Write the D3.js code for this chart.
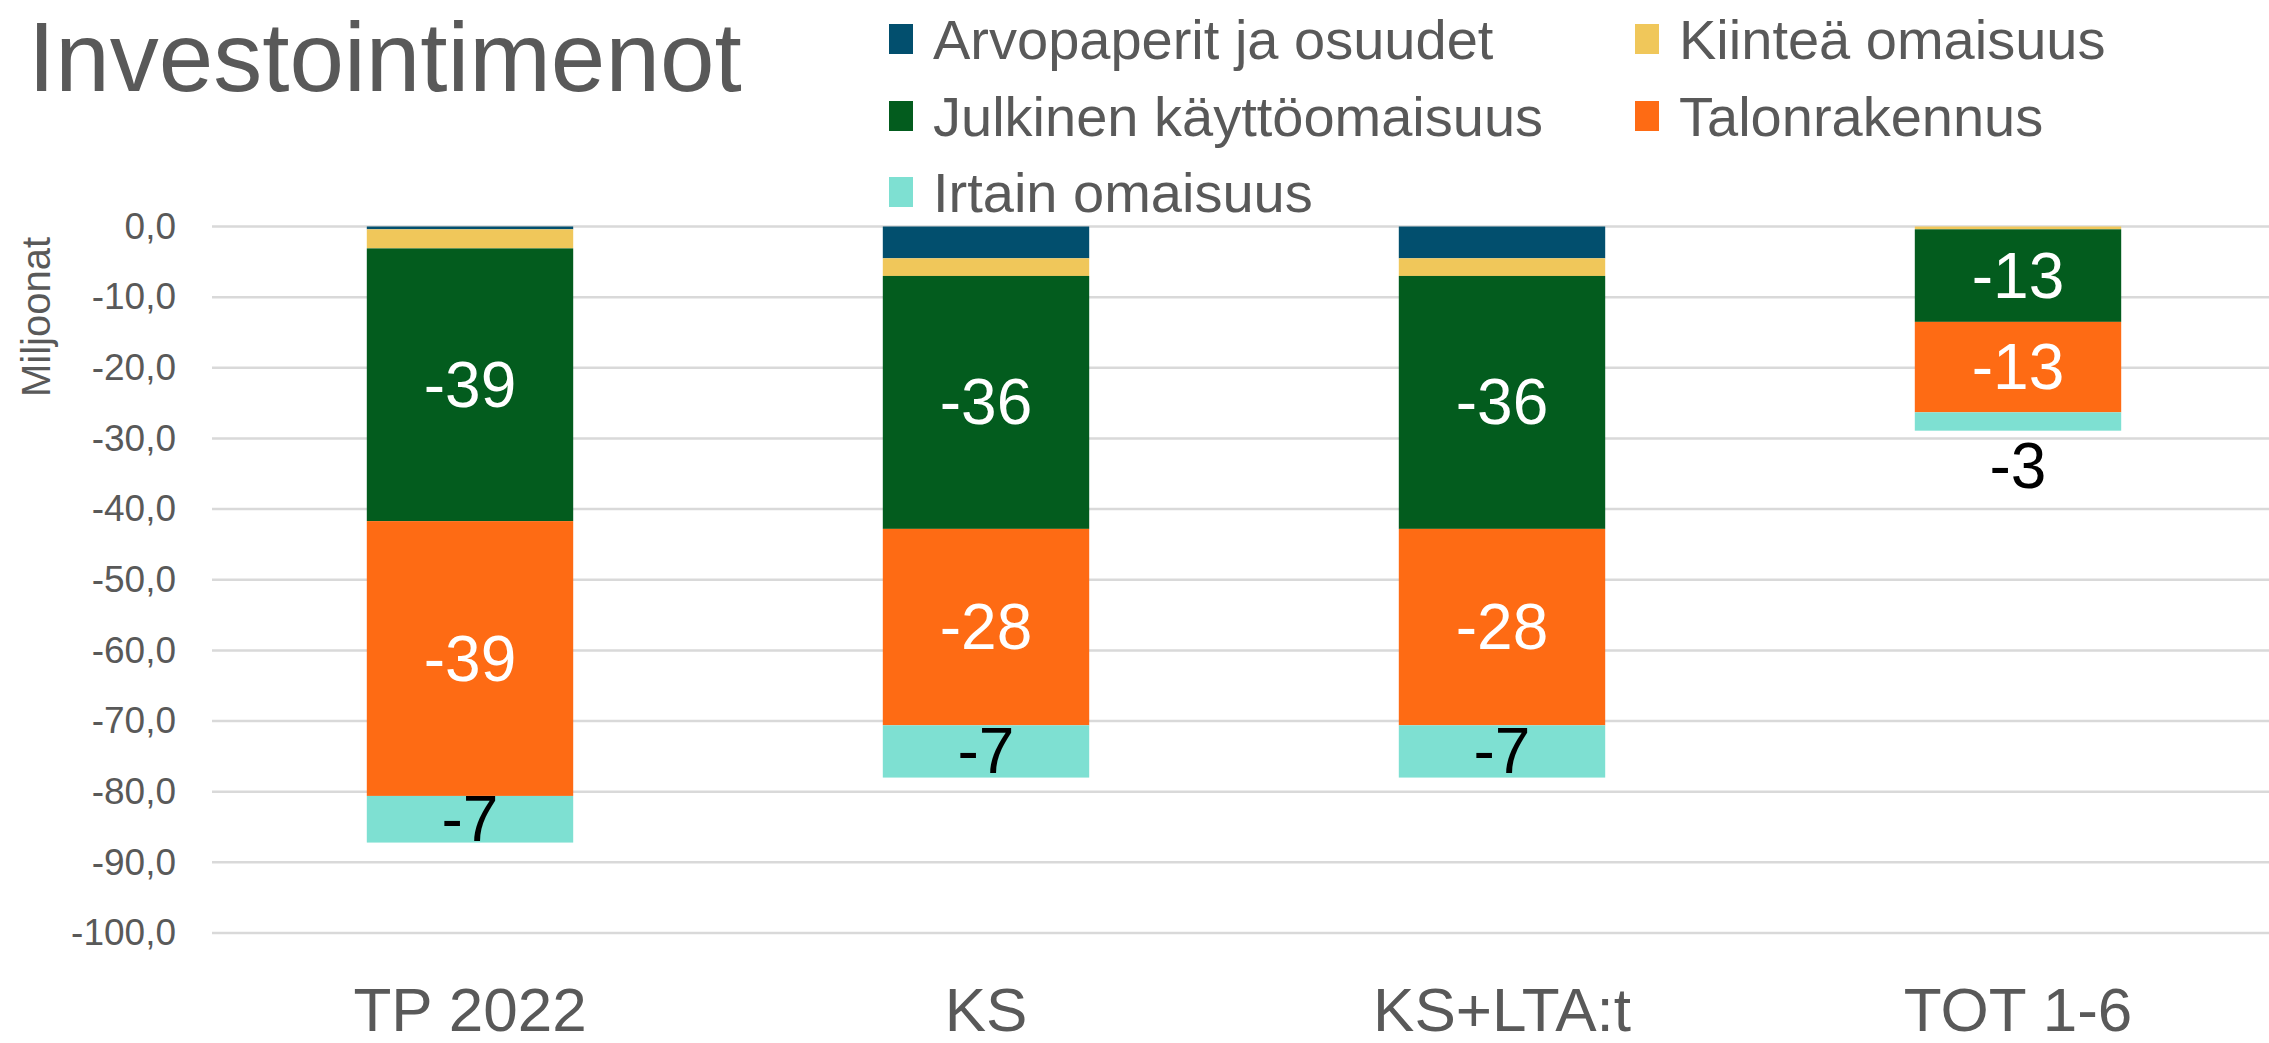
<!DOCTYPE html>
<html>
<head>
<meta charset="utf-8">
<script src="https://cdn.jsdelivr.net/npm/d3@7"></script>
<style>
  body { margin: 0; background: #fff; }
  text { font-family: "Liberation Sans", Arial, sans-serif; }
</style>
</head>
<body>
<div id="chart"></div>
<script>
// categories and series (millions, negative = spending)
var categories = ["TP 2022", "KS", "KS+LTA:t", "TOT 1-6"];
var seriesNames = ["Arvopaperit ja osuudet", "Kiinteä omaisuus", "Julkinen käyttöomaisuus", "Talonrakennus", "Irtain omaisuus"];
var arvopaperit = [-0.4, -4.5, -4.5, 0];
var kiintea = [-2.7, -2.5, -2.5, -0.4];
var julkinen = [-38.6, -35.8, -35.8, -13.1];
var talonrakennus = [-38.9, -27.8, -27.8, -12.8];
var irtain = [-6.6, -7.4, -7.4, -2.6];
var yTicks = [0, -10, -20, -30, -40, -50, -60, -70, -80, -90, -100];

var colors = ["#024f6e", "#f0c75a", "#035c1e", "#fe6b14", "#7ee0d2"];
var labelColors = [null, null, "#ffffff", "#ffffff", "#000000"];

var svgWidth = 2269;
var svgHeight = 1043;

var svg = d3.select("#chart")
  .append("svg")
  .attr("width", svgWidth)
  .attr("height", svgHeight);

// build rows for the stack
var keys = ["s0", "s1", "s2", "s3", "s4"];
var allSeries = [arvopaperit, kiintea, julkinen, talonrakennus, irtain];
var rows = categories.map(function(c, i) {
  var r = { cat: c };
  keys.forEach(function(k, j) { r[k] = allSeries[j][i]; });
  return r;
});

var stacked = d3.stack()
  .keys(keys)
  .offset(d3.stackOffsetDiverging)(rows);

// scales
var x = d3.scaleBand()
  .domain(categories)
  .range([212, 2276])
  .paddingInner(0.6)
  .paddingOuter(0.3);

var y = d3.scaleLinear()
  .domain([-100, 0])
  .range([933, 226.5]);

var fi = d3.formatLocale({ decimal: ",", thousands: " ", grouping: [3], currency: ["", " €"], minus: "-" });
var fmt = fi.format(".1f");

// gridlines
svg.append("g")
  .selectAll("line")
  .data(yTicks)
  .enter()
  .append("line")
  .attr("x1", 212)
  .attr("x2", svgWidth)
  .attr("y1", d => y(d))
  .attr("y2", d => y(d))
  .attr("stroke", "#d9d9d9")
  .attr("stroke-width", 2.5);

// y axis
var yAxis = svg.append("g")
  .attr("transform", "translate(212,0)")
  .call(d3.axisLeft(y).tickValues(yTicks).tickFormat(fmt).tickSize(0).tickPadding(36));
yAxis.select(".domain").remove();
yAxis.selectAll("text")
  .attr("font-size", "37px")
  .attr("fill", "#595959")
  .style("font-family", "'Liberation Sans', Arial, sans-serif");

svg.append("text")
  .attr("transform", "translate(36,317) rotate(-90)")
  .attr("text-anchor", "middle")
  .attr("dominant-baseline", "central")
  .attr("font-size", "40px")
  .attr("fill", "#595959")
  .text("Miljoonat");

// bars
var layers = svg.append("g")
  .selectAll("g")
  .data(stacked)
  .enter()
  .append("g")
  .attr("fill", (d, i) => colors[i]);

layers.selectAll("rect")
  .data(d => d)
  .enter()
  .append("rect")
  .attr("x", d => x(d.data.cat))
  .attr("width", x.bandwidth())
  .attr("y", d => y(Math.max(d[0], d[1])))
  .attr("height", d => Math.abs(y(d[0]) - y(d[1])));

// data labels
stacked.forEach(function(layer, i) {
  if (!labelColors[i]) return;
  svg.append("g").selectAll("text")
    .data(layer)
    .enter()
    .append("text")
    .attr("x", d => x(d.data.cat) + x.bandwidth() / 2)
    .attr("y", function(d) {
      var top = y(d[1]), bottom = y(d[0]);
      var h = Math.abs(bottom - top);
      // too thin segment: put label below the bar
      if (h < 30) return Math.max(top, bottom) + 35;
      return (top + bottom) / 2;
    })
    .attr("text-anchor", "middle")
    .attr("dominant-baseline", "central")
    .attr("font-size", "64px")
    .attr("fill", labelColors[i])
    .text(d => String(Math.round(d.data[keys[i]])));
});

// x axis labels
var xAxis = svg.append("g")
  .attr("transform", "translate(0,933)")
  .call(d3.axisBottom(x).tickSize(0));
xAxis.select(".domain").remove();
xAxis.selectAll("text")
  .attr("y", 76)
  .attr("dy", "0.35em")
  .attr("font-size", "62px")
  .attr("fill", "#595959")
  .style("font-family", "'Liberation Sans', Arial, sans-serif");

// title
svg.append("text")
  .attr("x", 28)
  .attr("y", 91)
  .attr("font-size", "98px")
  .attr("fill", "#595959")
  .text("Investointimenot");

// legend
var legendPos = [
  { x: 933, y: 39 }, { x: 1679, y: 39 },
  { x: 933, y: 116 }, { x: 1679, y: 116 },
  { x: 933, y: 192 }
];
var legend = svg.append("g")
  .selectAll("g")
  .data(seriesNames)
  .enter()
  .append("g")
  .attr("transform", (d, i) => `translate(${legendPos[i].x},${legendPos[i].y})`);

legend.append("rect")
  .attr("x", -44)
  .attr("y", -15)
  .attr("width", 24)
  .attr("height", 30)
  .attr("fill", (d, i) => colors[i]);

legend.append("text")
  .attr("x", 0)
  .attr("y", 0)
  .attr("dominant-baseline", "central")
  .attr("font-size", "56px")
  .attr("fill", "#595959")
  .text(d => d);
</script>
</body>
</html>
